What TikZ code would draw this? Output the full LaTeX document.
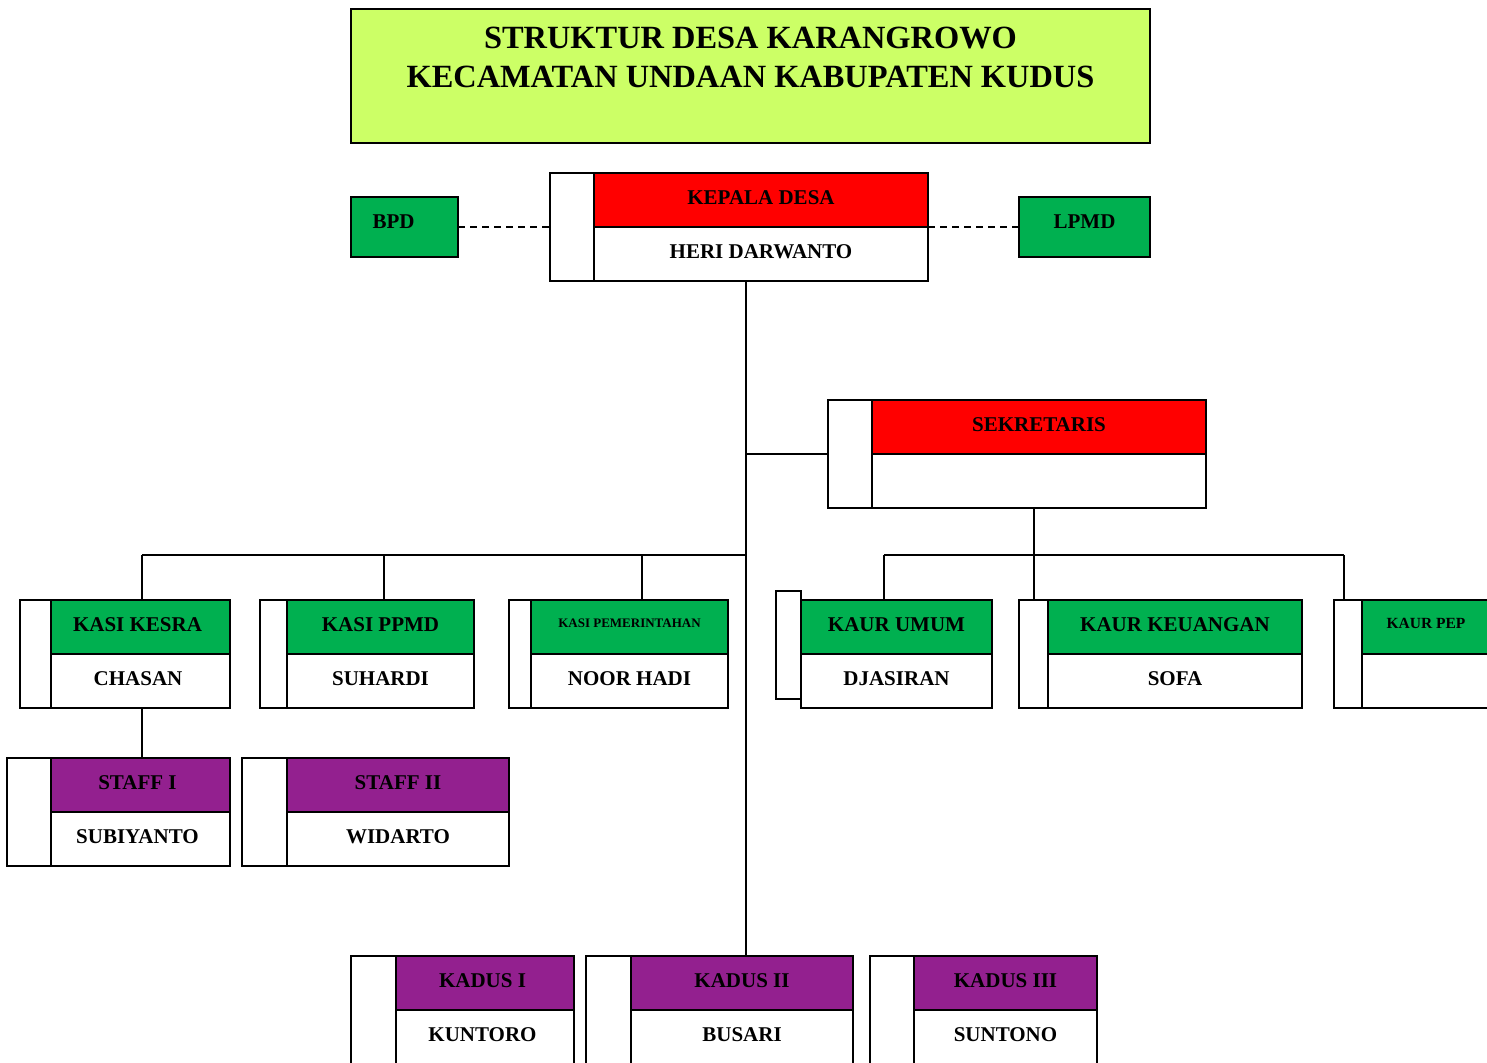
\documentclass[tikz,border=0pt]{standalone}
\usepackage{fontspec}
\setmainfont{Liberation Serif}
\definecolor{kgreen}{HTML}{00B050}
\definecolor{kred}{HTML}{FF0000}
\definecolor{kpurple}{HTML}{93208F}
\definecolor{ktitle}{HTML}{CCFF66}
\newcommand\orghd[1]{\raisebox{4pt}{#1}}
\newcommand\orgnm[1]{\raisebox{4pt}{#1}}
\newcommand\orgsmall[2]{\raisebox{8pt}{\fontsize{#1}{#1}\selectfont #2}}
% #1 name, #2 side left x, #3 divider x, #4 right x, #5 top y, #6 fill, #7 header, #8 name, #9 side top y
\newcommand\orgunit[9]{%
  \node[box, fill=white, anchor=north west, minimum width={(#3-#2)*1pt}, minimum height=108pt] (#1-s) at (#2,#9) {};
  \node[box, fill=#6, anchor=north west, minimum width={(#4-#3)*1pt}, minimum height=54pt] (#1-h) at (#3,#5) {#7};
  \node[box, fill=white, anchor=north west, minimum width={(#4-#3)*1pt}, minimum height=54pt] (#1-n) at (#3,#5+54) {#8};
}
\begin{document}
\begin{tikzpicture}[x=1pt,y=-1pt,
  every node/.style={inner sep=0pt, outer sep=0pt, font=\bfseries\fontsize{21}{24}\selectfont},
  box/.style={draw=black, line width=1.6pt, rectangle},
  conn/.style={draw=black, line width=1.6pt},
  link/.style={draw=black, line width=1.6pt, dash pattern=on 7pt off 5pt}]
\useasboundingbox (0,0) rectangle (1487,1062);
\clip (0,0) rectangle (1487,1062);

% title
\node[box, fill=ktitle, anchor=north west, minimum width=799pt, minimum height=134pt] (title) at (351,9) {};
\node[align=center, font=\bfseries\fontsize{32.4}{39}\selectfont] (titletext) at (750.5,57.5)
  {STRUKTUR DESA KARANGROWO\\KECAMATAN UNDAAN KABUPATEN KUDUS};

% side bodies
\node[box, fill=kgreen, anchor=north west, minimum width=107pt, minimum height=60pt] (bpd) at (351,197) {\raisebox{10pt}{BPD}\hspace*{22pt}};
\node[box, fill=kgreen, anchor=north west, minimum width=131pt, minimum height=60pt] (lpmd) at (1019,197) {\raisebox{10pt}{LPMD}};

% units
\orgunit{kd}{550}{594}{928}{173}{kred}{\orghd{KEPALA DESA}}{\orghd{HERI DARWANTO}}{173}
\orgunit{sk}{828}{872}{1206}{400}{kred}{\orghd{SEKRETARIS}}{}{400}
\orgunit{kesra}{20}{51}{230}{600}{kgreen}{\orghd{KASI KESRA}\hspace*{6pt}}{\orgnm{CHASAN}\hspace*{5pt}}{600}
\orgunit{ppmd}{260}{287}{474}{600}{kgreen}{\orghd{KASI PPMD}}{\orgnm{SUHARDI}}{600}
\orgunit{pem}{509}{531}{728}{600}{kgreen}{\orgsmall{13}{KASI PEMERINTAHAN}}{\orgnm{NOOR HADI}}{600}
\orgunit{umum}{776}{801}{992}{600}{kgreen}{\orghd{KAUR UMUM}}{\orgnm{DJASIRAN}}{591}
\orgunit{keu}{1019}{1048}{1302}{600}{kgreen}{\orghd{KAUR KEUANGAN}}{\orgnm{SOFA}}{600}
\orgunit{pep}{1334}{1362}{1500}{600}{kgreen}{\hspace*{-10pt}\orgsmall{15.5}{KAUR PEP}}{}{600}
\orgunit{st1}{7}{51}{230}{758}{kpurple}{\orghd{STAFF I}\hspace*{6pt}}{\orgnm{SUBIYANTO}\hspace*{6pt}}{758}
\orgunit{st2}{242}{287}{509}{758}{kpurple}{\orghd{STAFF II}}{\orgnm{WIDARTO}}{758}
\orgunit{k1}{351}{396}{574}{956}{kpurple}{\orghd{KADUS I}\hspace*{5pt}}{\orgnm{KUNTORO}\hspace*{5pt}}{956}
\orgunit{k2}{586}{631}{853}{956}{kpurple}{\orghd{KADUS II}}{\orgnm{BUSARI}}{956}
\orgunit{k3}{870}{914}{1097}{956}{kpurple}{\orghd{KADUS III}}{\orgnm{SUNTONO}}{956}

% connector coordinates
\coordinate (spine) at (746,0);
\coordinate (dA) at (142,555);
\coordinate (dB) at (384,555);
\coordinate (dC) at (642,555);
\coordinate (dD) at (884,555);
\coordinate (dE) at (1034,555);
\coordinate (dF) at (1344,555);

% connectors
\draw[link] (bpd.east) -- (kd-s.west);
\draw[link] (kd-n.north east) -- (lpmd.west);
\draw[conn] (kd-n.south -| spine) -- (k2-h.north -| spine);
\draw[conn] (sk-s.west) -- (sk-s.west -| spine);
\draw[conn] (dA) -- (dA -| spine);
\draw[conn] (dA) -- (dA |- kesra-h.north);
\draw[conn] (dB) -- (dB |- ppmd-h.north);
\draw[conn] (dC) -- (dC |- pem-h.north);
\draw[conn] (dE |- sk-n.south) -- (dE);
\draw[conn] (dD) -- (dF);
\draw[conn] (dD) -- (dD |- umum-h.north);
\draw[conn] (dE) -- (dE |- keu-s.north);
\draw[conn] (dF) -- (dF |- pep-s.north);
\draw[conn] (kesra-n.south -| dA) -- (st1-h.north -| dA);
\end{tikzpicture}
\end{document}
